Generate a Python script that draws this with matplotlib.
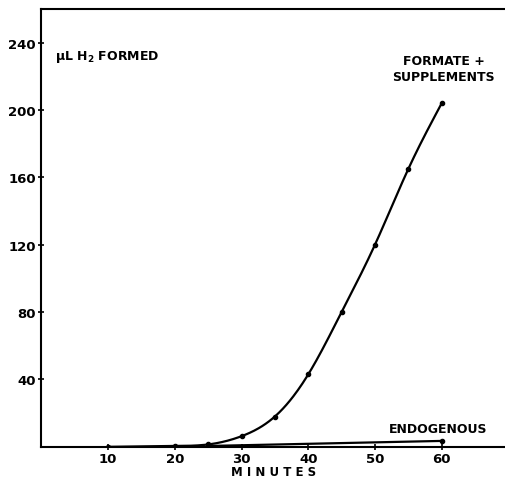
import numpy as np
import matplotlib.pyplot as plt

minutes = [10, 20, 25, 30, 35, 40, 45, 50, 55, 60]
formate = [0, 0.5, 1.4, 6.3, 18, 43, 80, 120, 165, 204]

endo_minutes = [25, 60]
endogenous = [0.5, 3.5]

x_ticks = [10, 20, 30, 40, 50, 60]
y_ticks = [40, 80, 120, 160, 200, 240]


def smooth(x, y, n=30):
    # natural cubic spline through the points, only for drawing the curve
    x = np.asarray(x, float)
    y = np.asarray(y, float)
    m = len(x)
    h = np.diff(x)
    A = np.zeros((m, m))
    b = np.zeros(m)
    A[0, 0] = A[-1, -1] = 1
    for i in range(1, m - 1):
        A[i, i - 1] = h[i - 1]
        A[i, i] = 2 * (h[i - 1] + h[i])
        A[i, i + 1] = h[i]
        b[i] = 6 * ((y[i + 1] - y[i]) / h[i] - (y[i] - y[i - 1]) / h[i - 1])
    M = np.linalg.solve(A, b)
    xs, ys = [], []
    for i in range(m - 1):
        t = np.linspace(x[i], x[i + 1], n)
        a = x[i + 1] - t
        c = t - x[i]
        s = (M[i] * a**3 + M[i + 1] * c**3) / (6 * h[i]) \
            + (y[i] / h[i] - M[i] * h[i] / 6) * a \
            + (y[i + 1] / h[i] - M[i + 1] * h[i] / 6) * c
        xs.extend(t)
        ys.extend(s)
    return xs, ys


fig = plt.figure(figsize=(5.05, 4.81), dpi=100)
ax = fig.add_axes([0.082, 0.069, 0.918, 0.91])

sx, sy = smooth(minutes, formate)
ax.plot(sx, sy, color="black", lw=1.6)
ax.plot(minutes, formate, "o", color="black", ms=3)
ax.plot(endo_minutes, endogenous, color="black", lw=1.6)
ax.plot(endo_minutes[-1], endogenous[-1], "o", color="black", ms=3)

ax.set_xlim(0, 69.5)
ax.set_ylim(0, 260)
ax.set_xticks(x_ticks)
ax.set_yticks(y_ticks)
ax.tick_params(direction="inout", length=5, width=1.2, labelsize=9.5, pad=1.5)
for lab in ax.get_xticklabels() + ax.get_yticklabels():
    lab.set_fontweight("bold")
for s in ["left", "bottom", "top"]:
    ax.spines[s].set_linewidth(1.5)
ax.spines["right"].set_visible(False)

ax.text(2, 232, r"$\mathbf{\mu L}$ H$_\mathbf{2}$ FORMED", fontsize=9, fontweight="bold", va="center")
ax.text(60.3, 216, "FORMATE +\nSUPPLEMENTS", fontsize=9, fontweight="bold",
        ha="center", va="bottom", linespacing=1.3)
ax.text(59.5, 7, "ENDOGENOUS", fontsize=9, fontweight="bold", ha="center", va="bottom")
ax.set_xlabel("M I N U T E S", fontsize=8.5, fontweight="bold", labelpad=0)

plt.savefig("out.png", dpi=100)
